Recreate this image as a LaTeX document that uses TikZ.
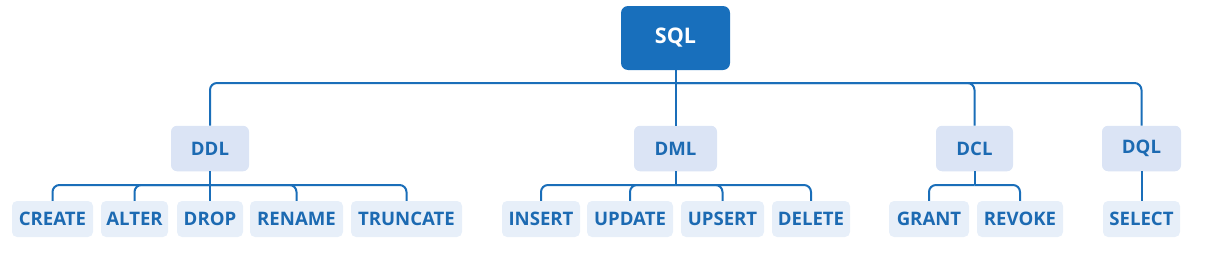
\documentclass[tikz,border=0pt]{standalone}
\usepackage{fontspec}
\setmainfont{Open Sans}
\definecolor{sqlblue}{RGB}{24,111,188}
\definecolor{linkblue}{RGB}{26,110,185}
\definecolor{txtblue}{RGB}{28,106,178}
\definecolor{lvtwo}{RGB}{219,228,245}
\definecolor{lvthree}{RGB}{231,239,249}
\begin{document}
\begin{tikzpicture}[x=1pt,y=-1pt,
  rootbox/.style={fill=sqlblue,rounded corners=7pt,text=white,font=\fontsize{21.5}{24}\selectfont\bfseries,minimum width=109pt,minimum height=64pt,inner sep=0pt},
  catbox/.style={fill=lvtwo,rounded corners=6pt,text=txtblue,font=\fontsize{18.6}{21}\selectfont\bfseries,minimum height=45.5pt,inner sep=0pt},
  cmdbox/.style={fill=lvthree,rounded corners=5pt,text=txtblue,font=\fontsize{18.6}{21}\selectfont\bfseries,minimum height=36pt,inner sep=0pt},
  link/.style={draw=linkblue,line width=2pt,rounded corners=7pt}]
\useasboundingbox (0,0) rectangle (1210,257);
% root
\node[rootbox] (sql) at (675.5,38) {SQL};
% categories
\node[catbox,minimum width=78pt] (ddl) at (210,148.5) {DDL};
\node[catbox,minimum width=83pt] (dml) at (675.5,148.5) {DML};
\node[catbox,minimum width=77pt] (dcl) at (974.5,148.5) {DCL};
\node[catbox,minimum width=79pt] (dql) at (1141.5,148.5) {DQL};
% commands
\node[cmdbox,minimum width=81pt] (create) at (52.5,219) {CREATE};
\node[cmdbox,minimum width=67pt] (alter) at (134.5,219) {ALTER};
\node[cmdbox,minimum width=66pt] (drop) at (210,219) {DROP};
\node[cmdbox,minimum width=93pt] (rename) at (296.5,219) {RENAME};
\node[cmdbox,minimum width=111pt] (truncate) at (406.5,219) {TRUNCATE};
\node[cmdbox,minimum width=78pt] (insert) at (541,219) {INSERT};
\node[cmdbox,minimum width=86pt] (update) at (630,219) {UPDATE};
\node[cmdbox,minimum width=83pt] (upsert) at (722.5,219) {UPSERT};
\node[cmdbox,minimum width=78pt] (delete) at (811,219) {DELETE};
\node[cmdbox,minimum width=80pt] (grant) at (929,219) {GRANT};
\node[cmdbox,minimum width=86pt] (revoke) at (1020,219) {REVOKE};
\node[cmdbox,minimum width=77pt] (select) at (1141.5,219) {SELECT};
% junctions
\coordinate (jroot) at (675.5,83);
\coordinate (jddl) at (210,185);
\coordinate (jdml) at (675.5,185);
\coordinate (jdcl) at (974.5,185);
% root links
\draw[link] (sql.south) -- (dml.north);
\draw[link] (jroot) -| (ddl.north);
\draw[link] (jroot) -| (dcl.north);
\draw[link] (jroot) -| (dql.north);
% DDL links
\draw[link] (ddl.south) -- (drop.north);
\draw[link] (jddl) -| (create.north);
\draw[link] (jddl) -| (alter.north);
\draw[link] (jddl) -| (rename.north);
\draw[link] (jddl) -| (truncate.north);
% DML links
\draw[link] (dml.south) -- (jdml);
\draw[link] (jdml) -| (insert.north);
\draw[link] (jdml) -| (update.north);
\draw[link] (jdml) -| (upsert.north);
\draw[link] (jdml) -| (delete.north);
% DCL links
\draw[link] (dcl.south) -- (jdcl);
\draw[link] (jdcl) -| (grant.north);
\draw[link] (jdcl) -| (revoke.north);
% DQL link
\draw[link] (dql.south) -- (select.north);
\end{tikzpicture}
\end{document}
